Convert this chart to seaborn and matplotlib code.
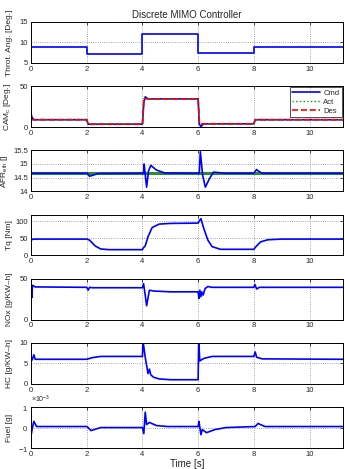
import numpy as np
import pandas as pd
import matplotlib
matplotlib.use('Agg')
import matplotlib.pyplot as plt
import seaborn as sns

# values (time in s)
thr_t = [0, 2, 2, 4, 4, 6, 6, 8, 8, 11.2]
thr_v = [9, 9, 7.2, 7.2, 12, 12, 7.3, 7.3, 9, 9]

cam_t = [0, 0.03, 0.1, 2.0, 2.05, 4.0, 4.05, 4.1, 4.2, 6.0, 6.04, 6.1, 6.2, 8.0, 8.05, 11.2]
cam_v = [17, 12, 9, 9, 3.5, 3.5, 30, 37, 34.5, 34.5, 4, 0.5, 4, 4, 9, 9]
des_t = [0, 2.0, 2.05, 4.0, 4.05, 6.0, 6.05, 8.0, 8.05, 11.2]
des_v = [9, 9, 3.5, 3.5, 34.5, 34.5, 4, 4, 9, 9]
act_t = [0, 2.0, 2.05, 4.0, 4.05, 6.0, 6.05, 8.0, 8.05, 11.2]
act_v = [9, 9, 3.5, 3.5, 34.5, 34.5, 4, 4, 9, 9]

afr_ref = 14.66
afr_t = [0, 2.02, 2.1, 2.2, 2.4, 4.0, 4.04, 4.06, 4.15, 4.22, 4.3, 4.5, 4.8, 6.0, 6.04, 6.08, 6.16, 6.26, 6.4, 6.55, 7.0,
         8.0, 8.1, 8.15, 8.3, 11.2]
afr_v = [14.66, 14.66, 14.55, 14.58, 14.65, 14.66, 14.66, 15.0, 14.15, 14.75, 14.95, 14.78, 14.67, 14.66, 14.66, 15.45,
         14.6, 14.15, 14.45, 14.7, 14.66, 14.66, 14.8, 14.75, 14.66, 14.66]

tq_t = [0, 0.03, 0.1, 2.0, 2.1, 2.3, 2.5, 2.8, 4.0, 4.03, 4.1, 4.2, 4.35, 4.6, 5.0, 6.0, 6.05, 6.1, 6.2, 6.35, 6.5, 6.8,
        8.0, 8.1, 8.25, 8.5, 9.0, 11.2]
tq_v = [42, 47, 48, 48, 45, 28, 19, 17, 17, 22, 28, 55, 82, 92, 94, 95, 102, 108, 80, 45, 26, 18,
        18, 28, 40, 46, 48, 48]

nox_t = [0, 0.03, 0.05, 0.15, 2.0, 2.05, 2.1, 2.2, 4.0, 4.04, 4.1, 4.15, 4.25, 4.4, 5.0, 6.0, 6.03, 6.06, 6.1,
         6.13, 6.18, 6.25, 6.35, 6.5, 8.0, 8.04, 8.1, 8.2, 11.2]
nox_v = [39, 27, 42, 40, 39.5, 36, 39.5, 39, 39, 44, 30, 17, 36, 35, 34, 34, 26, 36, 28, 34, 30, 38, 40.5, 39.5,
         39.5, 43, 37.5, 39.5, 39.5]

hc_t = [0, 0.05, 0.1, 0.15, 2.0, 2.2, 2.5, 4.0, 4.02, 4.1, 4.15, 4.2, 4.25, 4.3, 4.4, 4.6, 5.0, 6.0, 6.02, 6.06,
        6.2, 6.5, 8.0, 8.05, 8.1, 8.3, 11.2]
hc_v = [5.5, 6.0, 7.1, 6.0, 6.0, 6.4, 6.7, 6.7, 10.5, 6.5, 4.5, 2.5, 3.6, 2.2, 1.6, 1.2, 1.0, 1.0, 10.5, 5.6,
        6.2, 6.7, 6.7, 7.8, 6.5, 6.1, 6.0]

fuel_t = [0, 0.05, 0.1, 0.2, 2.0, 2.05, 2.15, 2.5, 4.0, 4.05, 4.1, 4.15, 4.25, 4.5, 4.9, 6.0, 6.03, 6.1, 6.15, 6.3,
          6.6, 7.0, 8.05, 8.15, 8.4, 11.2]
fuel_v = [-0.4, 0.0, 0.3, 0.05, 0.05, 0.0, -0.15, 0.0, 0.0, -0.3, 0.75, 0.15, 0.25, 0.1, 0.05, 0.05, 0.3, -0.35,
          -0.1, -0.25, -0.1, 0.0, 0.05, 0.2, 0.05, 0.05]

sns.set_style('white')
plt.rcParams['font.family'] = ['Liberation Sans', 'DejaVu Sans']
plt.rcParams['mathtext.fontset'] = 'custom'
plt.rcParams['mathtext.rm'] = 'Liberation Sans'
plt.rcParams['mathtext.it'] = 'Liberation Sans'

fig, axes = plt.subplots(7, 1, figsize=(3.45, 4.69), dpi=100)
fig.subplots_adjust(left=0.09, right=0.994, top=1 - 22 / 469, bottom=1 - 448 / 469, hspace=0.57)


def line(ax, t, v, **kw):
    sns.lineplot(x=t, y=v, ax=ax, estimator=None, sort=False, **kw)


blue = '#0000ff'
line(axes[0], thr_t, thr_v, color=blue, lw=1.2)
line(axes[1], cam_t, cam_v, color=blue, lw=1.2, label='Cmd')
line(axes[1], act_t, act_v, color='#00a000', lw=1.0, ls=':', label='Act')
line(axes[1], des_t, des_v, color='#ff0000', lw=1.2, ls='--', label='Des')
axes[2].axhline(afr_ref, color='#2e8b2e', lw=2.2)
line(axes[2], afr_t, afr_v, color=blue, lw=1.2)
line(axes[3], tq_t, tq_v, color=blue, lw=1.2)
line(axes[4], nox_t, nox_v, color=blue, lw=1.2)
line(axes[5], hc_t, hc_v, color=blue, lw=1.2)
line(axes[6], fuel_t, [v * 1e-3 for v in fuel_v], color=blue, lw=1.2)

ylabels = ['Throt. Ang. [Deg.]', 'CAM$_c$ [Deg.]', 'AFR$_{eth}$ []', 'Tq [Nm]',
           'NOx [g/KW\u2013h]', 'HC [g/KW\u2013h]', 'Fuel [g]']
ylims = [(5, 15), (0, 50), (14, 15.5), (0, 120), (0, 50), (0, 10), (-1e-3, 1e-3)]
yticks = [[5, 10, 15], [0, 50], [14, 14.5, 15, 15.5], [0, 50, 100], [0, 50], [0, 5, 10], [-1e-3, 0, 1e-3]]
label_x = [-0.058, -0.058, -0.066, -0.058, -0.058, -0.058, -0.058]

for ax, lab, yl, yt, lx in zip(axes, ylabels, ylims, yticks, label_x):
    ax.set_xlim(0, 11.2)
    ax.set_ylim(*yl)
    ax.set_xticks([0, 2, 4, 6, 8, 10])
    ax.set_yticks(yt)
    ax.set_ylabel(lab, fontsize=6)
    ax.yaxis.set_label_coords(lx, 0.5)
    ax.grid(True, ls=':', color='#888888', lw=0.6)
    ax.tick_params(direction='in', length=2.5, width=0.6, labelsize=5.5, pad=2,
                   top=True, right=True)
    for s in ax.spines.values():
        s.set_linewidth(0.7)
        s.set_color('black')
    ax.set_xlabel('')

axes[2].set_yticklabels(['14', '14.5', '15', '15.5'])
axes[6].ticklabel_format(axis='y', style='sci', scilimits=(0, 0), useMathText=True)
axes[6].yaxis.get_offset_text().set_fontsize(5)
axes[6].set_xlabel('Time [s]', fontsize=7, labelpad=1)
axes[0].set_title('Discrete MIMO Controller', fontsize=7, pad=3)

leg = axes[1].legend(loc='upper right', fontsize=5.5, frameon=True, fancybox=False,
                     borderpad=0.3, labelspacing=0.2, handlelength=3.6, handletextpad=0.5,
                     borderaxespad=0.15)
leg.get_frame().set_edgecolor('black')
leg.get_frame().set_linewidth(0.6)

fig.savefig('out.png', dpi=100)
